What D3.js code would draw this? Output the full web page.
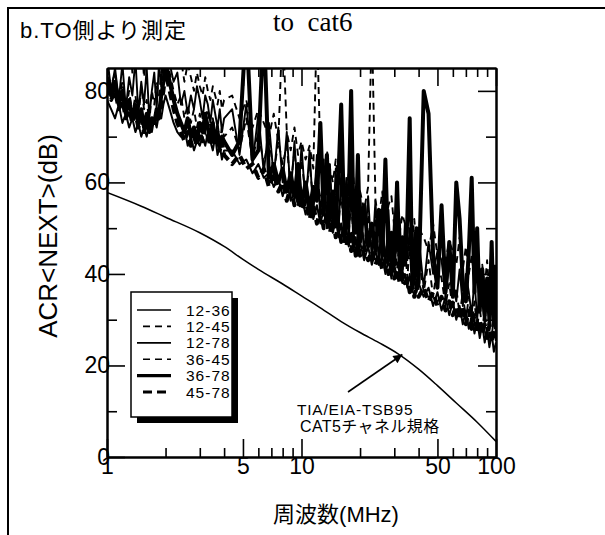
<!DOCTYPE html>
<html>
<head>
<meta charset="utf-8">
<script src="https://cdn.jsdelivr.net/npm/d3@7"></script>
<style>
  body { margin: 0; background: #fff; }
  svg { display: block; }
</style>
</head>
<body>
<svg id="chart" width="605" height="535"></svg>
<script>
// Measurement frequencies (MHz)
const freqs = [
  1.0, 1.05, 1.1, 1.15, 1.2, 1.25, 1.3, 1.35, 1.4, 1.45,
  1.5, 1.55, 1.6, 1.65, 1.7, 1.75, 1.8, 1.85, 1.9, 1.95, 2.0,
  2.1, 2.2, 2.3, 2.4, 2.5, 2.6, 2.7, 2.8, 2.9, 3.0,
  3.1, 3.2, 3.3, 3.4, 3.5, 3.6, 3.7, 3.8, 3.9, 4.0,
  4.4, 4.8, 5.2, 5.6, 6.0, 6.4, 6.8, 7.2, 7.6,
  8.0, 8.4, 8.8, 9.2, 9.6, 10, 10.5, 11, 11.5, 12,
  12.5, 13, 13.5, 14, 14.5, 15, 15.5, 16, 16.5, 17,
  17.5, 18, 18.5, 19, 19.5, 20, 21, 22, 23, 24,
  25, 26, 27, 28, 29, 30, 31, 32, 33, 34,
  35, 36, 37, 38, 39, 40, 42.5, 45, 47.5, 50,
  52.5, 55, 57.5, 60, 62.5, 65, 67.5, 70, 72.5, 75,
  77.5, 80, 82.5, 85, 87.5, 90, 92.5, 95, 97.5, 100
];

// ACR<NEXT> per pair combination (dB)
const acr1236 = [
  88, 80, 85, 78, 86, 76, 83, 79, 87, 75,
  82, 77, 85, 74, 80, 84, 76, 86, 81, 89, 92,
  86, 82, 84, 77, 80, 75, 79, 76, 81, 78,
  74, 79, 77, 73, 78, 75, 72, 76, 71, 74,
  76, 66, 77, 64, 75, 62, 73, 61, 72,
  60, 71, 57, 69, 56, 68, 55, 67, 53, 66,
  52, 65, 51, 64, 50, 63, 49, 62, 48, 61,
  47, 60, 46, 59, 45, 58, 44, 57, 43, 56,
  42, 55, 41, 54, 40, 53, 45, 52, 39, 51,
  43, 50, 38, 49, 41, 48, 37, 47, 40, 45,
  43, 35, 42, 38, 34, 41, 33, 40, 36, 31,
  39, 30, 37, 34, 29, 38, 28, 35, 31, 27
];
const acr1245 = [
  95, 88, 92, 85, 90, 86, 93, 84, 89, 87,
  91, 83, 88, 86, 92, 85, 90, 88, 93, 95, 96,
  92, 88, 85, 87, 82, 86, 83, 80, 84, 81,
  79, 83, 80, 78, 81, 79, 77, 80, 76, 78,
  79, 74, 78, 72, 76, 73, 70, 75, 69,
  95, 71, 67, 72, 66, 69, 65, 68, 63, 95,
  66, 61, 67, 63, 60, 65, 59, 64, 61, 58,
  62, 57, 61, 55, 60, 58, 54, 59, 95, 56,
  52, 58, 51, 55, 57, 50, 54, 49, 53, 51,
  48, 56, 47, 52, 46, 50, 48, 45, 51, 44,
  49, 43, 47, 45, 42, 48, 41, 46, 40, 44,
  39, 45, 38, 42, 37, 43, 36, 40, 35, 38
];
const acr1278 = [
  78, 76, 74, 77, 73, 75, 72, 74, 71, 73,
  70, 72, 70, 73, 71, 74, 72, 75, 74, 77, 79,
  76, 73, 71, 70, 72, 68, 70, 67, 69, 68,
  70, 68, 71, 69, 67, 70, 66, 68, 65, 67,
  67, 64, 65, 62, 64, 61, 62, 59, 61,
  57, 60, 56, 58, 55, 57, 53, 56, 52, 55,
  51, 54, 50, 53, 49, 52, 48, 51, 47, 50,
  46, 49, 45, 48, 44, 47, 43, 46, 42, 45,
  42, 44, 40, 43, 39, 42, 39, 41, 38, 40,
  37, 40, 36, 39, 36, 38, 35, 37, 33, 36,
  32, 35, 31, 34, 30, 33, 29, 32, 28, 31,
  27, 30, 26, 29, 25, 28, 24, 27, 23, 25
];
const acr3645 = [
  85, 81, 84, 78, 82, 76, 80, 75, 79, 74,
  81, 76, 78, 73, 80, 77, 82, 79, 84, 86, 88,
  84, 80, 77, 79, 74, 77, 73, 76, 72, 75,
  71, 74, 76, 72, 74, 70, 73, 69, 72, 70,
  72, 67, 74, 65, 71, 64, 70, 62, 69,
  64, 68, 59, 67, 58, 65, 57, 64, 56, 63,
  55, 62, 53, 61, 52, 60, 51, 58, 50, 57,
  49, 56, 48, 55, 47, 54, 46, 53, 45, 52,
  44, 51, 43, 50, 42, 49, 41, 48, 40, 47,
  39, 46, 38, 45, 37, 44, 36, 43, 35, 42,
  39, 33, 38, 32, 37, 31, 36, 30, 35, 29,
  34, 28, 33, 27, 33, 26, 32, 26, 31, 25
];
const acr3678 = [
  83, 79, 82, 77, 80, 75, 78, 74, 77, 73,
  76, 72, 75, 71, 74, 73, 76, 75, 79, 82, 86,
  82, 78, 75, 73, 71, 74, 70, 72, 69, 73,
  71, 75, 72, 70, 73, 69, 71, 68, 70, 69,
  66, 69, 95, 65, 67, 95, 61, 64, 60,
  63, 58, 62, 57, 64, 55, 60, 54, 59, 56,
  73, 53, 66, 52, 58, 51, 62, 77, 55, 50,
  57, 80, 52, 49, 66, 47, 55, 46, 51, 45,
  54, 44, 65, 43, 49, 42, 60, 41, 48, 42,
  52, 74, 41, 39, 50, 38, 80, 75, 44, 37,
  55, 36, 47, 35, 60, 52, 38, 34, 45, 61,
  36, 50, 32, 41, 31, 39, 30, 47, 29, 42
];
const acr4578 = [
  81, 78, 80, 76, 78, 74, 76, 73, 75, 72,
  74, 71, 73, 72, 74, 73, 75, 74, 77, 80, 84,
  80, 76, 73, 71, 69, 71, 68, 70, 68, 71,
  69, 72, 70, 68, 71, 68, 70, 67, 69, 66,
  64, 66, 63, 64, 61, 63, 59, 62, 58,
  60, 56, 59, 55, 58, 54, 56, 52, 55, 51,
  54, 50, 53, 49, 52, 48, 51, 47, 50, 46,
  49, 45, 48, 44, 47, 44, 46, 43, 45, 42,
  44, 41, 43, 40, 42, 39, 41, 38, 40, 38,
  39, 36, 38, 35, 38, 35, 37, 34, 36, 33,
  35, 32, 34, 31, 33, 30, 33, 29, 32, 28,
  31, 27, 30, 27, 29, 26, 29, 25, 28, 26
];

const seriesNames = ["12-36", "12-45", "12-78", "36-45", "36-78", "45-78"];
const seriesValues = [acr1236, acr1245, acr1278, acr3645, acr3678, acr4578];

// TIA/EIA-TSB95 CAT5 channel limit
const limitFreqs = [1, 1.5, 2, 3, 4, 5, 6, 8, 10, 12.5, 16, 20, 25, 31.25, 40, 50, 62.5, 80, 100];
const limitAcr = [57.8, 54.8, 52.4, 49.0, 46.0, 43.2, 41.0, 37.8, 35.2, 32.6, 29.6, 27.2, 25.0, 22.6, 19.2, 15.6, 11.8, 7.6, 3.4];

const xMajorTicks = [1, 5, 10, 50, 100];
const xMinorTicks = [2, 3, 4, 6, 7, 8, 9, 20, 30, 40, 60, 70, 80, 90];
const yMajorTicks = [0, 20, 40, 60, 80];
const yMinorTicks = [10, 30, 50, 70];

// Line style per pair combination
const seriesStyle = {
  "12-36": { width: 1.9, dash: null },
  "12-45": { width: 1.9, dash: "7,5" },
  "12-78": { width: 2.0, dash: null },
  "36-45": { width: 1.9, dash: "7,5" },
  "36-78": { width: 4.0, dash: null },
  "45-78": { width: 4.0, dash: "9,5" }
};

const svg = d3.select("#chart");
const W = 605, H = 535;
const plot = { left: 107, right: 496, top: 68, bottom: 457 };

const x = d3.scaleLog().domain([1, 100]).range([plot.left, plot.right]);
const y = d3.scaleLinear().domain([0, 85]).range([plot.bottom, plot.top]);

const sans = "Liberation Sans, Arial, sans-serif";
const sansJP = "Liberation Sans, Arial, 'Noto Sans CJK JP', sans-serif";

svg.append("rect").attr("width", W).attr("height", H).attr("fill", "#fff");

// outer frame
svg.append("rect")
  .attr("x", 8).attr("y", 8).attr("width", 700).attr("height", 700)
  .attr("fill", "none").attr("stroke", "#000").attr("stroke-width", 2);

svg.append("text")
  .attr("x", 20).attr("y", 38)
  .attr("font-family", sansJP)
  .attr("font-size", 22)
  .attr("letter-spacing", 1)
  .text("b.TO側より測定");

svg.append("text")
  .attr("x", 273).attr("y", 31)
  .attr("font-family", "Liberation Serif, 'Times New Roman', serif")
  .attr("font-size", 27)
  .style("white-space", "pre")
  .text("to  cat6");

// data lines, clipped to the plot frame
svg.append("defs").append("clipPath").attr("id", "plotClip")
  .append("rect")
  .attr("x", plot.left).attr("y", plot.top)
  .attr("width", plot.right - plot.left).attr("height", plot.bottom - plot.top);

const lineGen = d3.line()
  .x(d => x(d[0]))
  .y(d => y(d[1]));

const dataG = svg.append("g").attr("clip-path", "url(#plotClip)");

seriesNames.forEach((name, i) => {
  const pts = freqs.map((f, k) => [f, seriesValues[i][k]]);
  const st = seriesStyle[name];
  dataG.append("path")
    .datum(pts)
    .attr("d", lineGen)
    .attr("fill", "none")
    .attr("stroke", "#000")
    .attr("stroke-width", st.width)
    .attr("stroke-linejoin", "round")
    .attr("stroke-dasharray", st.dash);
});

dataG.append("path")
  .datum(limitFreqs.map((f, k) => [f, limitAcr[k]]))
  .attr("d", d3.line().x(d => x(d[0])).y(d => y(d[1])).curve(d3.curveMonotoneX))
  .attr("fill", "none")
  .attr("stroke", "#000")
  .attr("stroke-width", 1.5);

// axes with inward ticks
function styleAxis(g) {
  g.selectAll("path.domain").attr("stroke", "#000").attr("stroke-width", 2);
  g.selectAll(".tick line").attr("stroke", "#000").attr("stroke-width", 1.6);
  g.selectAll(".tick text").attr("font-family", sans).attr("font-size", 23).attr("fill", "#000");
}

svg.append("g").attr("transform", `translate(0,${plot.bottom})`)
  .call(d3.axisBottom(x).tickValues(xMinorTicks).tickSize(-9).tickFormat("").tickSizeOuter(0))
  .call(styleAxis);
svg.append("g").attr("transform", `translate(0,${plot.bottom})`)
  .call(d3.axisBottom(x).tickValues(xMajorTicks).tickSize(-18).tickPadding(1).tickFormat(d3.format("d")).tickSizeOuter(0))
  .call(styleAxis);

svg.append("g").attr("transform", `translate(0,${plot.top})`)
  .call(d3.axisTop(x).tickValues(xMinorTicks).tickSize(-9).tickFormat("").tickSizeOuter(0))
  .call(styleAxis);
svg.append("g").attr("transform", `translate(0,${plot.top})`)
  .call(d3.axisTop(x).tickValues(xMajorTicks).tickSize(-18).tickFormat("").tickSizeOuter(0))
  .call(styleAxis);

svg.append("g").attr("transform", `translate(${plot.left},0)`)
  .call(d3.axisLeft(y).tickValues(yMinorTicks).tickSize(-10).tickFormat("").tickSizeOuter(0))
  .call(styleAxis);
svg.append("g").attr("transform", `translate(${plot.left},0)`)
  .call(d3.axisLeft(y).tickValues(yMajorTicks).tickSize(-18).tickPadding(-3).tickFormat(d3.format("d")).tickSizeOuter(0))
  .call(styleAxis);

svg.append("g").attr("transform", `translate(${plot.right},0)`)
  .call(d3.axisRight(y).tickValues(yMinorTicks).tickSize(-10).tickFormat("").tickSizeOuter(0))
  .call(styleAxis);
svg.append("g").attr("transform", `translate(${plot.right},0)`)
  .call(d3.axisRight(y).tickValues(yMajorTicks).tickSize(-18).tickFormat("").tickSizeOuter(0))
  .call(styleAxis);

// axis titles
svg.append("text")
  .attr("transform", "translate(57,236) rotate(-90)")
  .attr("text-anchor", "middle")
  .attr("font-family", sans)
  .attr("font-size", 26)
  .text("ACR<NEXT>(dB)");

svg.append("text")
  .attr("x", 336).attr("y", 522)
  .attr("text-anchor", "middle")
  .attr("font-family", sansJP)
  .attr("font-size", 22)
  .text("周波数(MHz)");

// legend
const leg = { x: 131, y: 292, w: 101, h: 125, rowY: 310, rowStep: 16.4 };
svg.append("rect")
  .attr("x", leg.x + 6).attr("y", leg.y + 6).attr("width", leg.w).attr("height", leg.h)
  .attr("fill", "#000");
svg.append("rect")
  .attr("x", leg.x).attr("y", leg.y).attr("width", leg.w).attr("height", leg.h)
  .attr("fill", "#fff").attr("stroke", "#000").attr("stroke-width", 1.5);
svg.append("defs").append("clipPath").attr("id", "legClip")
  .append("rect").attr("x", leg.x).attr("y", leg.y).attr("width", leg.w).attr("height", leg.h);
const legG = svg.append("g").attr("clip-path", "url(#legClip)");
seriesNames.forEach((name, i) => {
  const st = seriesStyle[name];
  const ry = leg.rowY + i * leg.rowStep;
  legG.append("line")
    .attr("x1", st.dash ? 143 : 137).attr("x2", 171)
    .attr("y1", ry).attr("y2", ry)
    .attr("stroke", "#000").attr("stroke-width", Math.min(st.width, 3.6) * 0.85)
    .attr("stroke-dasharray", st.dash);
  legG.append("text")
    .attr("x", 186).attr("y", ry + 5.5)
    .attr("font-family", sans).attr("font-size", 15.5)
    .attr("letter-spacing", 1)
    .text(name);
});

// annotation for the limit curve
const arrowTip = [x(33), y(22.4)];
const arrowTail = [348, 392];
svg.append("defs").append("marker")
  .attr("id", "arrowHead").attr("viewBox", "0 0 10 10")
  .attr("refX", 10).attr("refY", 5)
  .attr("markerWidth", 16).attr("markerHeight", 9)
  .attr("markerUnits", "userSpaceOnUse")
  .attr("orient", "auto")
  .append("path").attr("d", "M0,0 L10,5 L0,10 Z").attr("fill", "#000");
svg.append("line")
  .attr("x1", arrowTail[0]).attr("y1", arrowTail[1])
  .attr("x2", arrowTip[0]).attr("y2", arrowTip[1])
  .attr("stroke", "#000").attr("stroke-width", 1.6)
  .attr("marker-end", "url(#arrowHead)");

svg.append("text")
  .attr("x", 297).attr("y", 415)
  .attr("font-family", sans).attr("font-size", 15.5)
  .attr("letter-spacing", 0.8)
  .text("TIA/EIA-TSB95");
svg.append("text")
  .attr("x", 300).attr("y", 432)
  .attr("font-family", sansJP).attr("font-size", 16)
  .attr("letter-spacing", 0.4)
  .text("CAT5チャネル規格");
</script>
</body>
</html>
